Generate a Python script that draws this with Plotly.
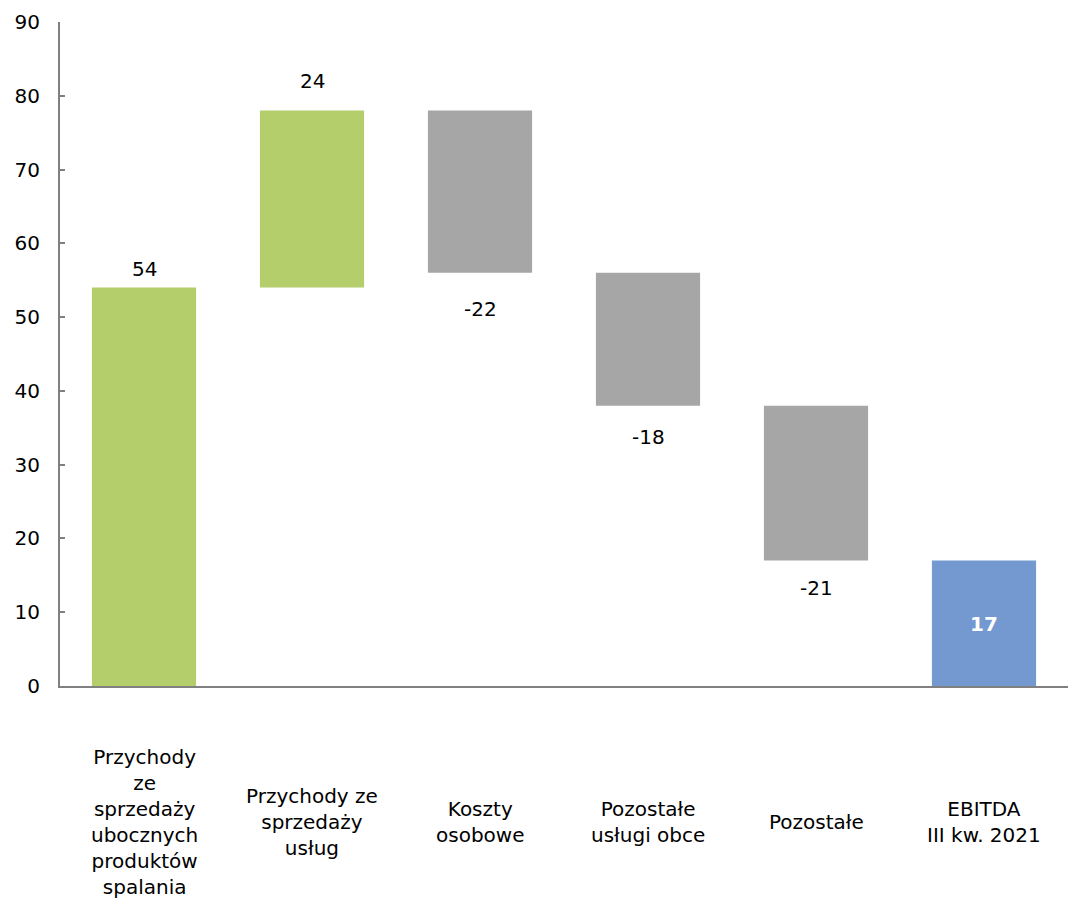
import plotly.graph_objects as go

categories = [
    "Przychody<br>ze<br>sprzedaży<br>ubocznych<br>produktów<br>spalania",
    "Przychody ze<br>sprzedaży<br>usług",
    "Koszty<br>osobowe",
    "Pozostałe<br>usługi obce",
    "Pozostałe",
    "EBITDA<br>III kw. 2021",
]
values = [54, 24, -22, -18, -21, 17]
kinds = ["up", "up", "down", "down", "down", "total"]
label_texts = ["54", "24", "-22", "-18", "-21", "17"]
label_shift = [19, 30, -36, -31, -27, 0]

colors = {"up": "#B3CE6A", "down": "#A6A6A6", "total": "#7399D0"}

bases = []
running = 0
for v, k in zip(values, kinds):
    if k == "total":
        bases.append(0)
    else:
        bases.append(running)
        running += v

xs = list(range(len(categories)))

fig = go.Figure()
fig.add_trace(go.Bar(
    x=xs, y=values, base=bases,
    marker=dict(color=[colors[k] for k in kinds], line=dict(width=0)),
    width=0.62, hoverinfo="skip",
))

font = "DejaVu Sans, Verdana, sans-serif"
FS = 20
for i, (v, b, k, t, s) in enumerate(zip(values, bases, kinds, label_texts, label_shift)):
    if k == "total":
        fig.add_annotation(x=i, y=v / 2, text="<b>" + t + "</b>", showarrow=False,
                           font=dict(family=font, size=FS, color="white"),
                           yanchor="middle", yshift=-1)
    else:
        end = b + v
        fig.add_annotation(x=i, y=end, text=t, showarrow=False,
                           font=dict(family=font, size=FS, color="black"),
                           yanchor="middle", yshift=s)

for i, c in enumerate(categories):
    fig.add_annotation(x=i, y=-0.205, xref="x", yref="paper", text=c, showarrow=False,
                       font=dict(family=font, size=FS, color="black"),
                       yanchor="middle", align="center")

fig.update_layout(
    width=1068, height=898,
    margin=dict(l=60, r=0, t=22, b=212),
    paper_bgcolor="white", plot_bgcolor="white",
    showlegend=False,
    font=dict(family=font, size=FS, color="black"),
)
fig.update_xaxes(range=[-0.5, 5.5], showticklabels=False, showgrid=False, zeroline=False,
                 showline=True, linecolor="#808080", linewidth=2, ticks="")
fig.update_yaxes(range=[0, 90], dtick=10, tick0=0, showgrid=False, zeroline=False,
                 showline=True, linecolor="#808080", linewidth=2,
                 ticks="inside", ticklen=5, tickcolor="#808080", tickwidth=2,
                 ticklabelstandoff=14,
                 tickfont=dict(family=font, size=FS, color="black"))

fig.write_html("out.html", config={"displayModeBar": False},
               post_script="document.body.style.margin='0';document.body.style.overflow='hidden';")
